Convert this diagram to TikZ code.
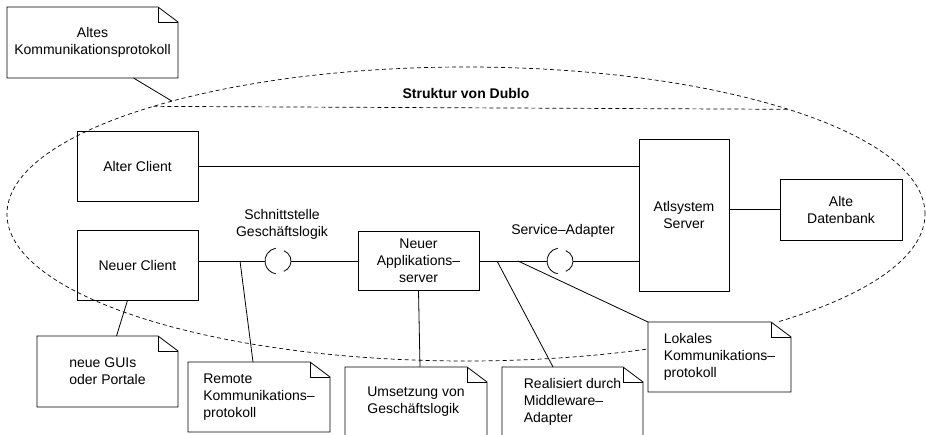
\documentclass[tikz,border=0pt]{standalone}
\usepackage{fontspec}
\setmainfont{Liberation Sans}
\usepackage{tikz}
\usetikzlibrary{shapes.geometric}
\tikzset{
	umlbox/.style = {
		rectangle,
		align = center,
		draw = black,
		line width = 0.8pt,
		inner sep = 2pt,
	},
	umlnote/.style = {
		rectangle,
		align = left,
		fill = white,
		inner sep = 2pt,
		outer sep = 0pt,
		minimum height = 70pt,
	},
	umlport/.style = {
		circle,
		minimum size = 26pt,
		inner sep = 0pt,
		outer sep = 0pt,
	},
	collab/.style = {
		ellipse,
		draw = black,
		dash pattern = on 4pt off 3pt,
		line width = 0.7pt,
		inner sep = 0pt,
		outer sep = 0pt,
		minimum width = 918pt,
		minimum height = 294pt,
	},
	link/.style = {line width = 0.8pt},
}
\begin{document}
\begin{tikzpicture}[x = 1pt, y = -1pt, font = \fontsize{14}{17}\selectfont]
	\useasboundingbox (0,0) rectangle (926,435);
	\node[collab](dublo) at (466,214) {};
	\draw[dash pattern = on 4pt off 3pt, line width = 0.7pt](dublo.161.6) -- (dublo.18.4);
	\node[font = \fontsize{14}{17}\selectfont\bfseries](titel) at (466,94) {Struktur von Dublo};
	
	\node[umlbox, minimum width = 121pt, minimum height = 70pt](altclient) at (137.5,166) {Alter Client};
	\node[umlbox, minimum width = 121pt, minimum height = 70pt](neuclient) at (137.5,265) {Neuer Client};
	\node[umlbox, minimum width = 121pt, minimum height = 59pt](appserver) at (418.5,261) {Neuer\\Applikations–\\server};
	\node[umlbox, minimum width = 90pt, minimum height = 152pt](server) at (684,215) {Atlsystem\\Server};
	\node[umlbox, minimum width = 122pt, minimum height = 61pt](datenbank) at (841,209.5) {Alte\\Datenbank};
	
	\node[umlport](ifgl) at (278,261) {};
	\node[umlport](ifsa) at (560,261) {};
	\node[align = center](lblgl) at (282,224) {Schnittstelle\\Geschäftslogik};
	\node(lblsa) at (563,231) {Service–Adapter};
	
	\node[umlnote, align = center, minimum width = 171pt, minimum height = 71pt](altes) at (92.5,42.5) {Altes\\Kommunikationsprotokoll};
	\node[umlnote, minimum width = 141pt, minimum height = 71pt](guis) at (107.5,371.5) {neue GUIs\\oder Portale};
	\node[umlnote, minimum width = 142pt](remote) at (259,397) {Remote\\Kommunikations–\\protokoll};
	\node[umlnote, minimum width = 142pt](umsetzung) at (416,402) {Umsetzung von\\Geschäftslogik};
	\node[umlnote, minimum width = 141pt](realisiert) at (572.5,402) {Realisiert durch\\Middleware–\\Adapter};
	\node[umlnote, minimum width = 143pt](lokales) at (719.5,357) {Lokales\\Kommunikations–\\protokoll};
	
	\foreach \n in {altes,guis,remote,umsetzung,realisiert,lokales}{
		\draw[link](\n.north west) -- ([xshift=-20pt]\n.north east) -- ([yshift=-15pt]\n.north east) -- (\n.south east) -- (\n.south west) -- cycle;
		\draw[link]([xshift=-20pt]\n.north east) |- ([yshift=-15pt]\n.north east);
	}
	\foreach \n in {ifgl,ifsa}{
		\draw[link]([xshift=-2.26pt, yshift=12.8pt]\n.center) arc[start angle = 100, end angle = 260, radius = 13pt];
		\draw[link]([xshift=5.76pt, yshift=-10.34pt]\n.center) arc[start angle = -70, end angle = 70, radius = 11pt];
	}
	
	\draw[link](altclient.east) -- (altclient.east -| server.west);
	\draw[link](server.east |- datenbank.west) -- (datenbank.west);
	\draw[link](neuclient.east |- ifgl) -- (ifgl);
	\draw[link](ifgl) -- (appserver);
	\draw[link](appserver) -- (ifsa);
	\draw[link](ifsa) -- (ifsa -| server.west);
	
	\coordinate(rpunkt) at (240,261);
	\coordinate(mpunkt) at (497,261);
	\coordinate(lpunkt) at (518,261);
	\draw[link]([xshift=41pt]altes.south) -- (dublo.159.7);
	\draw[link]([xshift=-10pt]neuclient.south) -- ([xshift=9pt]guis.north);
	\draw[link](rpunkt) -- ([xshift=-6pt]remote.north);
	\draw[link](appserver.south) -- ([xshift=4pt]umsetzung.north);
	\draw[link](mpunkt) -- ([xshift=-19.5pt]realisiert.north);
	\draw[link](lpunkt) -- (lokales.north west);
\end{tikzpicture}
\end{document}
